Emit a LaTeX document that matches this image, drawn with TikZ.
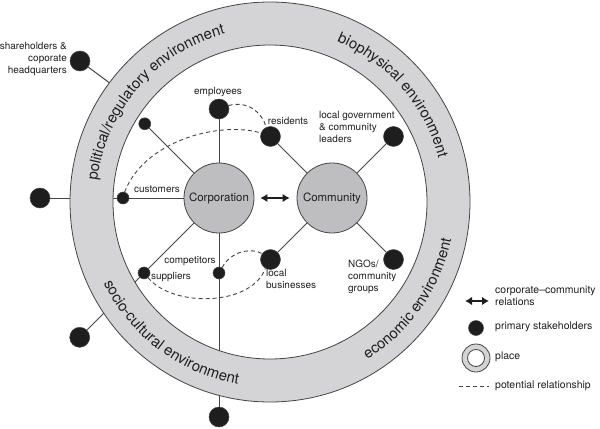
\documentclass[tikz,border=0pt]{standalone}
\usepackage{fontspec}
\setmainfont{TeX Gyre Heros}
\usetikzlibrary{arrows.meta,calc,decorations.text}
\pgfdeclarelayer{background}
\pgfsetlayers{background,main}
\definecolor{ringgray}{RGB}{212,212,214}
\definecolor{orggray}{RGB}{190,190,192}
\definecolor{linegray}{RGB}{68,68,68}
\definecolor{inkgray}{RGB}{30,30,30}

\begin{document}
\begin{tikzpicture}[x=1bp,y=1bp,
  link/.style={linegray,line width=1bp},
  potential/.style={linegray,line width=0.9bp,dash pattern=on 4bp off 3bp},
  twoway/.style={inkgray,line width=2.4bp,{Latex[length=7bp,width=8.5bp]}-{Latex[length=7bp,width=8.5bp]}},
  bigdot/.style={circle,fill=inkgray,draw=linegray,line width=0.5bp,inner sep=0pt,minimum size=20bp},
  smalldot/.style={bigdot,minimum size=12bp},
  org/.style={circle,draw=linegray,fill=orggray,line width=0.8bp,inner sep=0pt,minimum size=70bp,
    text=inkgray,font=\fontsize{11.5}{13}\selectfont},
  lbl/.style={text=inkgray,font=\fontsize{10}{12}\selectfont,inner sep=0pt,align=left},
  keylbl/.style={lbl,font=\fontsize{10.5}{12}\selectfont,anchor=west},
  envtext/.style={decorate,decoration={text along path,text align=center,
    text={|\fontsize{15}{17}\selectfont\color{inkgray}|#1}}}]
  \useasboundingbox (0,0) rectangle (600,428);
  % place: the environment ring
  \coordinate (C) at (270,226);
  \fill[ringgray,even odd rule] (C) circle (200) (C) circle (157);
  \draw[linegray,line width=0.8bp] (C) circle (200) (C) circle (157);
  \path[envtext={political/regulatory environment}] ($(C)+(184:174)$) arc[start angle=184,end angle=94,radius=174];
  \path[envtext={biophysical environment}] ($(C)+(86:174)$) arc[start angle=86,end angle=-4,radius=174];
  \path[envtext={economic environment}] ($(C)+(-80:185)$) arc[start angle=-80,end angle=10,radius=185];
  \path[envtext={socio-cultural environment}] ($(C)+(188:185)$) arc[start angle=188,end angle=278,radius=185];
  % the two organisations
  \node[org] (corp) at (219,230) {Corporation};
  \node[org] (comm) at (332,230) {Community};
  \draw[twoway,shorten <=6bp,shorten >=7bp] (corp) -- (comm);
  % stakeholders of the corporation
  \node[bigdot] (emp) at ($(corp)+(90:89)$) {};
  \node[smalldot] (uld) at ($(corp)+(135:105)$) {};
  \node[smalldot] (cust) at ($(corp)+(180:96)$) {};
  \node[smalldot] (supp) at ($(corp)+(225:106)$) {};
  \node[smalldot] (comp) at ($(corp)+(270:75)$) {};
  \node[bigdot] (outl) at ($(corp)+(180:179)$) {};
  \node[bigdot] (outll) at ($(corp)+(225:197)$) {};
  \node[bigdot] (outb) at ($(corp)+(270:219)$) {};
  \node[bigdot] (share) at (80,367) {};
  \coordinate (shareend) at ($(C)+(143.4:180)$);
  % stakeholders of the community
  \node[bigdot] (res) at ($(comm)+(135:87)$) {};
  \node[bigdot] (gov) at ($(comm)+(45:87)$) {};
  \node[bigdot] (ngo) at ($(comm)+(-45:87)$) {};
  \node[bigdot] (bus) at ($(comm)+(225:87)$) {};
  % labels
  \node[lbl] (empl) at (218,336) {employees};
  \node[lbl] (resl) at (288,307) {residents};
  \node[lbl] (custl) at (157,239) {customers};
  \node[lbl] (compl) at (190,167) {competitors};
  \node[lbl] (suppl) at (171,151) {suppliers};
  \node[lbl,anchor=north west] (govl) at (319,317) {local government\\\& community\\leaders};
  \node[lbl,anchor=north west] (busl) at (266,159) {local\\businesses};
  \node[lbl,anchor=north west] (ngol) at (348,168) {NGOs/\\community\\groups};
  \node[lbl,anchor=north east,align=right] (sharel) at (67,386) {shareholders \&\\coporate\\headquarters};
  % links
  \begin{pgfonlayer}{background}
    \foreach \s in {emp,uld,cust,supp,comp}
      \draw[link] (corp) -- (\s);
    \draw[link] (cust) -- (outl);
    \draw[link] (supp) -- (outll);
    \draw[link] (comp) -- (outb);
    \draw[link] (share) -- (shareend);
    \foreach \s in {res,gov,ngo,bus}
      \draw[link] (comm) -- (\s);
  \end{pgfonlayer}
  % potential relationships
  \draw[potential] (emp.20) .. controls +(19,5) and +(-4,15) .. (res.115);
  \draw[potential] (cust.75) .. controls +(20,52) and +(-40,12) .. (res.160);
  \draw[potential] (supp.-50) .. controls +(25,-30) and +(-14,-38) .. (bus.240);
  \draw[potential] (comp.60) .. controls +(9,17) and +(-10,6) .. (bus.145);
  % key
  \coordinate (keyarrL) at (465,127);
  \coordinate (keyarrR) at (489,127);
  \draw[twoway,line width=2bp] (keyarrL) -- (keyarrR);
  \node[keylbl,anchor=north west] (keyarrl) at (495,142) {corporate--community\\relations};
  \node[bigdot,minimum size=15bp] (keydot) at (476,100) {};
  \node[keylbl] (keydotl) at (495,101) {primary stakeholders};
  \node[circle,draw=linegray,fill=ringgray,line width=0.8bp,minimum size=28bp] (keyring) at (476,70) {};
  \node[circle,draw=linegray,fill=white,line width=0.8bp,minimum size=17bp] (keyhole) at (keyring) {};
  \node[keylbl] (keyringl) at (495,71) {place};
  \coordinate (keydashL) at (459,42);
  \coordinate (keydashR) at (489,42);
  \draw[potential] (keydashL) -- (keydashR);
  \node[keylbl] (keydashl) at (495,42) {potential relationship};
\end{tikzpicture}
\end{document}
